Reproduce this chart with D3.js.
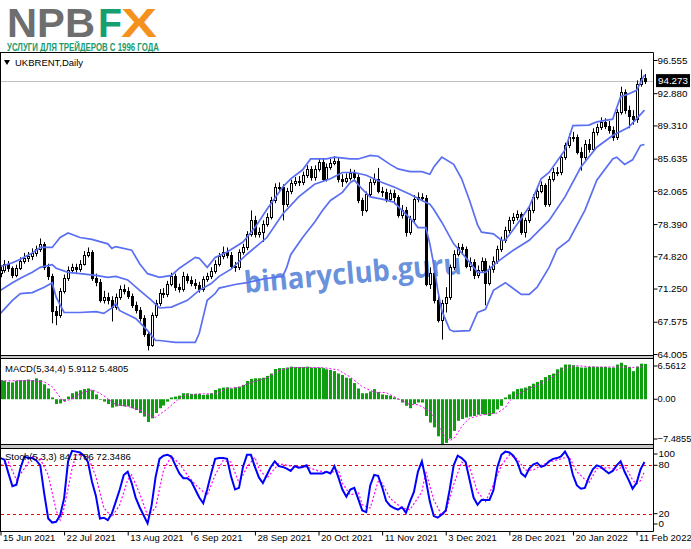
<!DOCTYPE html>
<html><head><meta charset="utf-8">
<script src="https://cdn.jsdelivr.net/npm/d3@7"></script>
<style>body{margin:0;background:#fff}svg{display:block}</style>
</head><body>
<script>
// ---------------- DATA ----------------
const dateLabels = ["15 Jun 2021","22 Jul 2021","13 Aug 2021","6 Sep 2021","28 Sep 2021","20 Oct 2021","11 Nov 2021","3 Dec 2021","28 Dec 2021","20 Jan 2022","11 Feb 2022"];
const dateIdx = [0,16,32,48,64,80,96,112,128,144,160];
const priceTicks = [96.555,92.880,89.310,85.635,82.065,78.390,74.820,71.250,67.575,64.005];
const macdTicks = [6.5612,0,-7.4855];
const stochTicks = [100,80,20,0];
const stochLevels = [80,20];
const lastPrice = 94.273;

const opens = [73.0,73.3,74.0,73.5,72.8,73.5,74.3,74.6,74.8,75.2,
75.6,76.2,73.6,72.6,68.8,68.3,71.0,72.4,73.3,73.6,
73.4,74.0,75.0,75.3,72.4,72.0,70.0,70.3,70.0,69.2,
70.3,71.2,71.0,70.4,69.4,68.9,68.0,66.2,65.0,68.3,
69.6,70.8,70.6,71.8,72.6,71.4,71.2,72.6,72.2,71.9,
71.6,71.2,72.3,72.6,73.2,74.0,74.8,75.3,75.0,73.8,
73.6,75.3,75.8,77.3,78.8,77.3,77.5,78.4,79.2,81.0,
82.5,82.5,80.6,82.0,82.9,83.2,83.0,83.8,84.5,83.6,
84.5,85.3,83.4,84.7,85.2,85.4,83.4,83.2,83.5,84.0,
83.6,81.0,80.0,81.7,83.0,83.4,82.1,81.9,81.2,81.8,
81.4,79.4,80.0,77.5,78.9,81.2,81.4,81.3,71.8,73.0,
70.0,67.8,69.6,70.3,73.6,75.1,75.8,75.6,73.8,74.2,
72.7,73.3,74.3,71.9,73.4,74.3,75.6,76.6,77.7,78.8,
79.2,79.5,77.5,78.8,79.9,81.4,82.1,82.7,80.6,83.4,
84.2,84.1,85.8,87.1,88.0,88.0,86.4,85.8,87.3,86.7,
88.6,89.1,89.7,89.3,88.8,88.0,90.8,93.0,91.0,90.4,
90.0,93.9,94.6];
const highs = [73.8,74.4,74.3,73.7,73.9,74.7,75.2,75.3,75.7,76.0,
76.8,76.4,74.0,72.9,69.3,71.3,72.8,73.7,74.0,74.0,
74.4,75.4,75.8,75.5,72.9,72.3,71.0,70.8,70.4,70.7,
71.6,71.7,71.4,70.7,69.8,69.2,68.3,66.5,68.6,70.0,
71.2,71.3,72.1,73.0,72.9,71.8,73.1,72.9,72.6,72.3,
72.0,72.6,73.0,73.6,74.4,75.2,75.9,75.8,75.3,74.2,
75.6,76.2,77.6,79.9,79.3,78.0,78.8,79.6,81.4,82.9,
83.0,82.8,82.4,83.3,83.6,83.7,84.2,84.9,84.8,84.9,
85.7,85.6,85.1,85.6,85.9,85.7,83.9,84.0,84.5,84.4,
83.9,81.3,82.0,83.4,84.0,84.6,82.5,82.3,82.2,82.2,
81.6,80.5,80.3,79.3,81.6,81.9,81.8,81.6,73.6,73.6,
70.9,70.0,71.4,73.9,75.5,76.3,76.2,75.9,74.7,74.5,
73.8,74.7,74.6,73.8,74.8,76.0,77.0,78.1,79.2,79.6,
79.9,79.7,79.1,80.3,81.7,82.5,83.1,82.9,83.7,84.6,
84.7,86.1,87.4,88.4,88.6,88.3,86.9,87.7,87.8,89.0,
89.5,90.2,90.1,89.8,89.2,91.1,93.6,93.3,91.5,91.0,
94.3,95.5,95.0];
const lows = [72.5,73.0,73.1,72.4,72.5,73.3,74.0,74.2,74.4,74.8,
75.3,73.3,72.2,67.4,67.2,68.0,70.7,72.1,73.0,73.0,
73.1,73.8,74.7,72.1,71.5,69.7,69.6,69.5,67.6,68.9,
70.0,70.6,70.1,69.1,68.5,67.6,65.9,64.4,64.8,68.0,
69.3,70.2,70.3,71.5,71.0,70.8,70.9,71.8,71.5,71.2,
70.8,70.9,72.0,72.3,72.9,73.7,74.5,74.6,73.4,73.1,
73.3,75.0,75.5,77.0,76.9,76.9,76.4,78.1,78.9,80.7,
82.0,78.8,80.3,81.7,82.6,82.6,82.7,83.5,83.2,83.2,
84.2,83.1,83.1,84.4,84.9,83.0,82.5,82.9,83.2,83.2,
80.7,79.3,79.7,81.4,82.7,81.8,81.4,80.8,80.9,80.6,
79.1,79.0,77.0,77.2,78.6,80.8,80.9,71.5,71.2,69.6,
67.5,65.6,68.6,70.0,73.3,74.8,75.0,73.5,73.2,72.3,
72.4,73.0,69.4,71.6,73.0,74.0,75.3,76.3,77.4,78.4,
78.8,77.2,76.9,78.5,79.6,81.1,81.8,80.3,80.3,83.1,
83.7,83.8,85.5,86.8,87.5,86.1,84.3,85.5,86.3,86.4,
88.2,88.8,88.9,88.4,87.6,87.7,90.5,90.6,89.0,89.4,
89.6,93.6,93.9];
const closes = [73.3,74.0,73.5,72.8,73.5,74.3,74.6,74.8,75.2,75.6,
76.2,73.6,72.6,68.8,68.3,71.0,72.4,73.3,73.6,73.4,
74.0,75.0,75.3,72.4,72.0,70.0,70.3,70.0,69.2,70.3,
71.2,71.0,70.4,69.4,68.9,68.0,66.2,65.0,68.3,69.6,
70.8,70.6,71.8,72.6,71.4,71.2,72.6,72.2,71.9,71.6,
71.2,72.3,72.6,73.2,74.0,74.8,75.3,75.0,73.8,73.6,
75.3,75.8,77.3,78.8,77.3,77.5,78.4,79.2,81.0,82.5,
82.5,80.6,82.0,82.9,83.2,83.0,83.8,84.5,83.6,84.5,
85.3,83.4,84.7,85.2,85.4,83.4,83.2,83.5,84.0,83.6,
81.0,80.0,81.7,83.0,83.4,82.1,81.9,81.2,81.8,81.4,
79.4,80.0,77.5,78.9,81.2,81.4,81.3,71.8,73.0,70.0,
67.8,69.6,70.3,73.6,75.1,75.8,75.6,73.8,74.2,72.7,
73.3,74.3,71.9,73.4,74.3,75.6,76.6,77.7,78.8,79.2,
79.5,77.5,78.8,79.9,81.4,82.1,82.7,80.6,83.4,84.2,
84.1,85.8,87.1,88.0,88.0,86.4,85.8,87.3,86.7,88.6,
89.1,89.7,89.3,88.8,88.0,90.8,93.0,91.0,90.4,90.0,
93.9,94.6,94.273];

// Bollinger bands, [bar index, price]
const bbUpper = [[0,73.7],[3,74.1],[5,74.5],[8,75.2],[10,75.8],[13,75.8],[15,76.9],[17,77.4],[20,76.9],[23,76.7],[27,76.2],[28,75.7],[29,75.9],[33,75.5],[35,74.0],[37,72.9],[40,72.5],[43,72.7],[45,73.5],[49,74.7],[50,74.6],[52,73.6],[54,74.7],[57,75.3],[61,76.4],[64,78.0],[67,80.0],[71,82.5],[73,83.4],[76,84.4],[78,85.6],[82,85.6],[84,85.8],[88,85.6],[90,85.6],[93,86.0],[95,85.9],[98,85.0],[100,84.5],[103,84.2],[106,84.2],[108,83.9],[109,84.7],[111,85.8],[114,85.0],[116,83.4],[118,81.0],[120,78.3],[121,77.5],[124,77.3],[126,76.6],[127,76.6],[129,77.8],[131,79.0],[133,80.3],[136,83.4],[138,84.1],[142,86.6],[144,89.3],[148,89.35],[150,89.7],[154,90.0],[156,92.5],[158,92.8],[160,93.2],[162,94.9]];
const bbMid = [[0,71.05],[3,71.9],[5,72.4],[8,73.05],[10,73.6],[13,73.9],[14,73.5],[17,73.05],[20,72.9],[24,72.7],[27,72.5],[29,72.6],[32,72.2],[35,71.05],[38,69.95],[40,69.1],[43,69.2],[47,69.95],[50,71.05],[53,71.8],[55,72.6],[58,73.4],[62,75.05],[67,76.9],[71,79.5],[75,81.4],[79,82.8],[83,83.4],[86,84.1],[89,84.1],[92,83.8],[96,83.0],[99,82.5],[103,81.7],[106,81.0],[108,80.6],[109,80.0],[111,78.6],[114,76.2],[117,74.7],[120,73.05],[122,73.05],[125,74.2],[129,75.5],[133,76.6],[138,78.8],[142,81.4],[146,84.7],[150,86.9],[154,88.2],[158,89.1],[162,91.0]];
const bbLower = [[0,68.5],[3,69.95],[5,70.7],[8,70.8],[11,71.4],[13,71.9],[14,70.3],[16,68.6],[20,68.6],[24,68.7],[26,68.5],[28,69.1],[29,69.6],[30,68.8],[34,67.95],[35,67.5],[37,66.6],[39,65.5],[40,65.5],[44,65.3],[49,65.3],[50,66.3],[52,69.95],[54,70.7],[55,71.3],[59,71.7],[62,71.9],[66,72.3],[69,72.5],[71,72.6],[72,73.6],[73,75.0],[76,76.9],[79,78.6],[81,79.9],[83,81.0],[86,81.9],[88,83.0],[89,83.25],[91,82.25],[93,81.4],[96,81.15],[99,80.8],[101,79.9],[104,78.6],[105,78.0],[107,78.0],[108,76.2],[109,73.9],[110,71.05],[111,68.8],[113,66.7],[114,66.5],[118,66.6],[120,68.6],[122,68.95],[124,71.05],[127,71.9],[131,70.6],[133,70.6],[135,71.4],[138,73.6],[140,75.6],[143,76.6],[147,79.9],[150,83.25],[154,85.6],[155,85.8],[157,85.0],[159,85.5],[161,87.1],[162,87.2]];

// MACD(5,34,4) histogram per bar
const macdMain = [3.2,3.1,2.9,2.8,3.1,3.2,3.2,3.3,3.2,3.5,
3.2,2.5,1.8,0.3,-0.8,-0.7,-0.3,0.45,1.0,1.3,
1.5,1.7,1.8,1.5,0.8,-0.1,-0.4,-0.8,-1.4,-1.2,
-1.1,-1.2,-1.2,-1.5,-1.8,-2.3,-2.9,-3.8,-3.2,-2.3,
-1.5,-1.05,-0.4,0.3,0.45,0.6,1.0,1.0,0.9,0.9,
0.9,0.7,0.8,1.0,1.55,1.8,1.95,2.0,1.8,2.0,
2.1,2.4,3.05,3.4,3.5,3.5,3.6,3.9,4.3,5.05,
5.2,5.2,5.3,5.45,5.4,5.4,5.4,5.45,5.3,5.3,
5.3,5.2,5.0,4.9,4.7,4.3,4.05,3.6,3.5,2.7,
1.8,1.0,1.0,1.3,1.7,1.2,0.8,0.7,0.6,0.3,
-0.1,-0.55,-1.1,-1.5,-0.8,-0.55,-0.55,-2.8,-3.9,-4.7,
-6.2,-7.4855,-7.3,-6.6,-5.3,-3.6,-3.3,-3.05,-2.9,-2.8,
-2.6,-2.5,-2.6,-2.8,-2.4,-1.7,-1.1,0.3,0.8,1.3,
1.7,1.8,1.95,2.2,2.6,2.9,3.2,3.7,4.05,4.3,
5.0,5.3,5.8,5.8,5.7,5.45,5.3,5.3,5.4,5.45,
5.4,5.4,5.4,5.3,5.3,5.8,6.1,5.7,5.4,4.7,
5.45,5.95,5.9112];
// MACD signal, [bar index, value]
const macdSignal = [[0,3.05],[4,3.1],[8,3.1],[11,2.9],[13,2.1],[15,0.3],[16,-0.4],[18,0.1],[20,0.9],[23,1.6],[25,1.0],[27,0.1],[29,-0.9],[32,-1.2],[35,-1.8],[37,-2.6],[39,-3.05],[42,-1.6],[44,-0.4],[46,0.6],[50,0.9],[54,0.9],[57,1.8],[60,2.0],[63,2.8],[67,3.5],[70,4.8],[73,5.3],[81,5.3],[85,4.9],[88,3.7],[91,2.1],[94,1.2],[97,1.1],[100,0.1],[103,-0.9],[105,-0.9],[108,-2.0],[110,-3.9],[111,-5.3],[112,-6.3],[113,-6.9],[114,-6.6],[115,-5.6],[116,-4.6],[117,-3.8],[118,-3.2],[120,-2.8],[122,-2.5],[125,-2.3],[127,-1.4],[128,-0.3],[130,0.8],[132,1.5],[136,2.6],[139,3.8],[142,5.2],[145,5.6],[149,5.4],[155,5.4],[159,5.3],[162,5.4805]];

// Stochastic(5,3,3) main per bar
const stochMain = [89,87,70,54,56,76,91,89,89,86,
80,45,14,9,10,18,39,85,98,97,
96,92,84,60,42,14,15,12,20,35,
50,68,72,58,40,28,18,8,30,65,
88,92,93,91,80,70,64,64,60,50,
40,33,50,70,88,89,89,88,66,50,
52,78,93,93,78,65,58,68,78,85,
79,78,76,73,79,77,78,80,70,70,
70,70,72,70,79,65,50,41,50,52,
38,24,22,55,68,67,53,36,30,27,
25,28,21,35,47,72,85,62,35,17,
15,19,24,50,80,92,89,84,62,40,
31,37,37,37,49,78,93,97,96,92,
84,70,66,76,81,83,78,80,85,88,
89,91,97,88,68,55,51,52,65,75,
80,78,74,70,73,80,85,72,62,51,
58,75,84.1786];
// Stochastic signal, [bar index, value]
const stochSignal = [[0,80],[2,84],[4,62],[6,76],[8,91],[10,88],[12,68],[14,24],[15,12],[16,27],[18,76],[19,93],[22,91],[24,66],[26,27],[28,16],[30,31],[32,62],[33,68],[35,45],[37,18],[39,27],[41,74],[43,91],[45,82],[47,68],[49,56],[52,43],[54,68],[56,86],[58,84],[60,58],[62,78],[64,90],[65,76],[67,64],[69,76],[70,82],[74,78],[77,78],[80,73],[83,71],[85,74],[86,58],[88,43],[90,47],[91,31],[93,27],[95,60],[96,58],[98,39],[101,27],[103,25],[106,47],[107,72],[109,37],[111,18],[112,22],[114,56],[116,84],[118,78],[120,47],[122,35],[124,56],[126,80],[128,93],[130,88],[132,74],[134,74],[136,80],[138,84],[141,88],[143,91],[145,72],[148,58],[150,76],[153,77],[155,74],[157,80],[159,62],[160,57],[161,61],[162,72.3486]];

// ---------------- DRAWING ----------------
const FONT = "'Liberation Sans', Arial, sans-serif";
const svg = d3.select("body").append("svg").attr("width",691).attr("height",549)
  .style("font-family",FONT);

const AX = 653.5;               // right axis line
const MAIN = [52.5,355.5], MACD = [358.5,444.5], STO = [448.5,531.5];

const x = d3.scaleLinear().domain([0, closes.length-1]).range([0.5, 644.5]);
const yMain = d3.scaleLinear().domain([priceTicks[priceTicks.length-1], priceTicks[0]]).range([354, 60]);
const yMacd = d3.scaleLinear().domain([macdTicks[2], macdTicks[0]]).range([444, 360]);
const yStoch = d3.scaleLinear().domain([0,100]).range([529.8, 449.2]);

const defs = svg.append("defs");
[["cMain",MAIN],["cMacd",MACD],["cSto",STO]].forEach(([id,r])=>{
  defs.append("clipPath").attr("id",id).append("rect")
    .attr("x",1).attr("y",r[0]+0.5).attr("width",AX-1.5).attr("height",r[1]-r[0]-1);
});

// Logo
const logo = svg.append("g").style("font-family",FONT).style("font-weight","bold");
logo.append("text").attr("x",7).attr("y",37).attr("font-size",40).attr("fill","#6e6e6e")
  .attr("textLength",88).attr("lengthAdjust","spacingAndGlyphs").text("NPB");
logo.append("text").attr("x",98).attr("y",37).attr("font-size",40).attr("fill","#16a072")
  .attr("textLength",24).attr("lengthAdjust","spacingAndGlyphs").text("F");
logo.append("text").attr("x",121).attr("y",37).attr("font-size",40).attr("fill","#f5921e")
  .attr("textLength",36).attr("lengthAdjust","spacingAndGlyphs").text("X");
logo.append("text").attr("x",7).attr("y",51).attr("font-size",10).attr("fill","#1b9a6b")
  .attr("textLength",152).attr("lengthAdjust","spacingAndGlyphs").text("УСЛУГИ ДЛЯ ТРЕЙДЕРОВ С 1996 ГОДА");

// separators
svg.append("rect").attr("x",0).attr("y",356).attr("width",AX).attr("height",2.5).attr("fill","#c8c8c8");
svg.append("rect").attr("x",0).attr("y",445).attr("width",AX).attr("height",3).attr("fill","#c8c8c8");

// watermark
svg.append("text").attr("transform","translate(245,293) rotate(-5)")
  .attr("font-family","'Open Sans', 'DejaVu Sans', sans-serif").attr("font-weight","bold")
  .attr("font-size",30).attr("fill","#5b87d9").attr("fill-opacity",0.92)
  .attr("textLength",218).attr("lengthAdjust","spacingAndGlyphs").text("binaryclub.guru");

// current price line
svg.append("line").attr("x1",1).attr("x2",AX).attr("y1",Math.round(yMain(lastPrice))+0.5).attr("y2",Math.round(yMain(lastPrice))+0.5)
  .attr("stroke","#c0c0c0");

// candles
const bars = closes.map((c,i)=>({i,o:opens[i],h:highs[i],l:lows[i],c}));
const gC = svg.append("g").attr("clip-path","url(#cMain)");
gC.selectAll("line.w").data(bars).join("line").attr("class","w")
  .attr("x1",d=>Math.round(x(d.i))+0.5).attr("x2",d=>Math.round(x(d.i))+0.5)
  .attr("y1",d=>yMain(d.h)).attr("y2",d=>yMain(d.l)).attr("stroke","#000").attr("stroke-width",1);
gC.selectAll("rect.b").data(bars).join("rect").attr("class","b")
  .attr("x",d=>Math.round(x(d.i))-0.5).attr("width",2)
  .attr("y",d=>Math.round(yMain(Math.max(d.o,d.c)))+0.5)
  .attr("height",d=>Math.max(1,Math.round(yMain(Math.min(d.o,d.c)))-Math.round(yMain(Math.max(d.o,d.c)))))
  .attr("fill",d=>d.c>=d.o?"#fff":"#000").attr("stroke","#000").attr("stroke-width",1);

// Bollinger bands
const lineMain = d3.line().x(d=>x(d[0])).y(d=>yMain(d[1]));
const gB = svg.append("g").attr("clip-path","url(#cMain)");
[bbUpper,bbMid,bbLower].forEach(s=>{
  gB.append("path").attr("d",lineMain(s)).attr("fill","none").attr("stroke","#5a6ff2").attr("stroke-width",1.7);
});

// MACD histogram
const gM = svg.append("g").attr("clip-path","url(#cMacd)");
gM.selectAll("rect").data(macdMain.map((v,i)=>({i,v}))).join("rect")
  .attr("x",d=>Math.round(x(d.i))-1).attr("width",3)
  .attr("y",d=>yMacd(Math.max(0,d.v))).attr("height",d=>Math.abs(yMacd(d.v)-yMacd(0)))
  .attr("fill","#0f9e0f");
gM.append("path").attr("d",d3.line().x(d=>x(d[0])).y(d=>yMacd(d[1]))(macdSignal))
  .attr("fill","none").attr("stroke","#ff00ff").attr("stroke-width",1).attr("stroke-dasharray","2,2");

// Stochastic
const gS = svg.append("g").attr("clip-path","url(#cSto)");
stochLevels.forEach(v=>{
  gS.append("line").attr("x1",1).attr("x2",AX).attr("y1",Math.round(yStoch(v))+0.5).attr("y2",Math.round(yStoch(v))+0.5)
    .attr("stroke","#ff0000").attr("stroke-dasharray","3,3");
});
gS.append("path").attr("d",d3.line().x(d=>x(d[0])).y(d=>yStoch(d[1]))(stochSignal))
  .attr("fill","none").attr("stroke","#ff00ff").attr("stroke-width",1.2).attr("stroke-dasharray","2,2");
gS.append("path").attr("d",d3.line().x((d,i)=>x(i)).y(d=>yStoch(d))(stochMain))
  .attr("fill","none").attr("stroke","#0000ff").attr("stroke-width",2);

// frame lines
const fl = svg.append("g").attr("stroke","#000").attr("stroke-width",1);
[MAIN[0],MAIN[1],MACD[0],MACD[1],STO[0],STO[1]].forEach(y=>{
  fl.append("line").attr("x1",0).attr("x2",AX).attr("y1",y).attr("y2",y);
});
fl.append("line").attr("x1",0.5).attr("x2",0.5).attr("y1",MAIN[0]).attr("y2",STO[1]);
fl.append("line").attr("x1",AX).attr("x2",AX).attr("y1",MAIN[0]).attr("y2",STO[1]);

// titles
svg.append("path").attr("d","M4,60 L10,60 L7,65 Z").attr("fill","#000");
svg.append("text").attr("x",15).attr("y",66).attr("font-size",9.5).attr("fill","#000").text("UKBRENT,Daily");
svg.append("text").attr("x",5).attr("y",371.5).attr("font-size",9.5).attr("fill","#000")
  .text(`MACD(5,34,4) ${macdMain[macdMain.length-1].toFixed(4)} ${macdSignal[macdSignal.length-1][1].toFixed(4)}`);
svg.append("text").attr("x",5).attr("y",460).attr("font-size",9.5).attr("fill","#000")
  .text(`Stoch(5,3,3) ${stochMain[stochMain.length-1].toFixed(4)} ${stochSignal[stochSignal.length-1][1].toFixed(4)}`);

// axes
function styleAxis(g, fs){
  g.select(".domain").remove();
  g.attr("font-family",FONT).attr("font-size",fs);
  g.selectAll("line").attr("stroke","#000");
  g.selectAll("text").attr("fill","#000");
}
const aMain = svg.append("g").attr("transform",`translate(${AX},0)`)
  .call(d3.axisRight(yMain).tickValues(priceTicks).tickSize(4).tickPadding(0).tickFormat(d3.format(".3f")));
styleAxis(aMain,9.8);

const aMacd = svg.append("g").attr("transform",`translate(${AX},0)`)
  .call(d3.axisRight(yMacd).tickValues(macdTicks).tickSize(4).tickPadding(0)
    .tickFormat(d=>d===0?"0.00":d3.format(".4f")(d)));
styleAxis(aMacd,9.3);
aMacd.selectAll(".tick").attr("transform",d=>`translate(0,${Math.min(Math.max(yMacd(d),MACD[0]+7.5),MACD[1]-5.5)})`);

const aSto = svg.append("g").attr("transform",`translate(${AX},0)`)
  .call(d3.axisRight(yStoch).tickValues(stochTicks).tickSize(4).tickPadding(1).tickFormat(d3.format("d")));
styleAxis(aSto,9.8);
aSto.selectAll(".tick").attr("transform",d=>`translate(0,${Math.min(Math.max(yStoch(d),STO[0]+5.5),STO[1]-7.5)})`);

const aX = svg.append("g").attr("transform",`translate(0,${STO[1]})`)
  .call(d3.axisBottom(x).tickValues(dateIdx).tickSize(4).tickFormat((d,i)=>dateLabels[i]));
styleAxis(aX,9.5);
aX.selectAll("text").attr("text-anchor","start").attr("x",2).attr("y",3);

// last price box
const yl = yMain(lastPrice);
svg.append("rect").attr("x",AX+2.5).attr("y",yl-6.5).attr("width",34).attr("height",13).attr("fill","#000");
svg.append("text").attr("x",AX+4.5).attr("y",yl).attr("dy","0.35em").attr("font-size",9.8).attr("fill","#fff")
  .text(d3.format(".3f")(lastPrice));
</script>
</body></html>
